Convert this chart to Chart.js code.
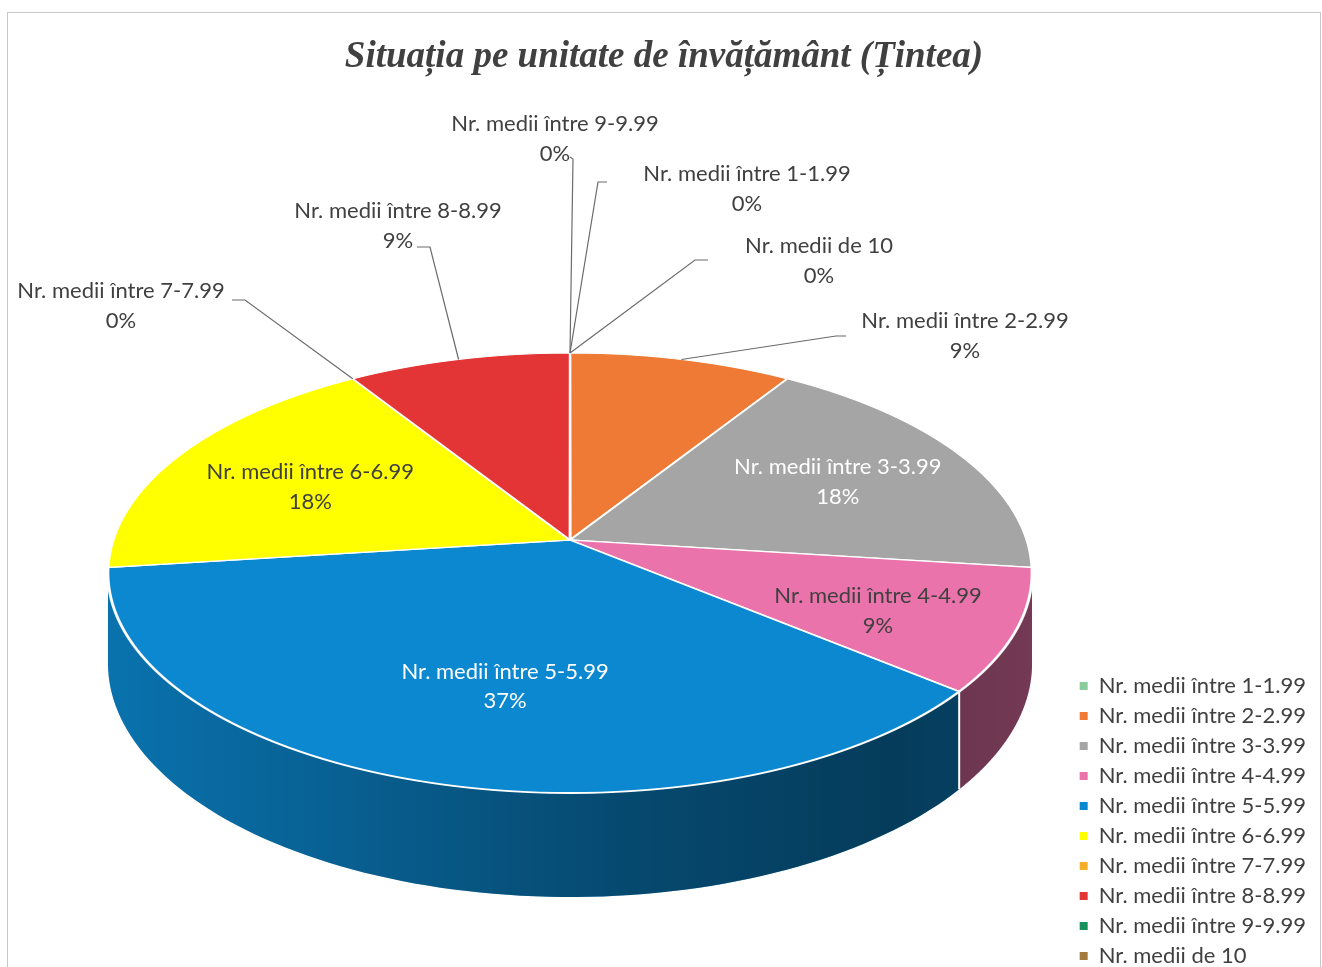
<!DOCTYPE html>
<html><head><meta charset="utf-8">
<script src="https://cdn.jsdelivr.net/npm/chart.js@4.4.1/dist/chart.umd.min.js"></script>
<style>html,body{margin:0;padding:0;overflow:hidden;background:#fff}</style>
</head><body>
<canvas id="c" width="1322" height="976"></canvas>
<script>
// ---------- data ----------
const categories = [
  'Nr. medii între 1-1.99', 'Nr. medii între 2-2.99', 'Nr. medii între 3-3.99',
  'Nr. medii între 4-4.99', 'Nr. medii între 5-5.99', 'Nr. medii între 6-6.99',
  'Nr. medii între 7-7.99', 'Nr. medii între 8-8.99', 'Nr. medii între 9-9.99',
  'Nr. medii de 10'
];
const percentValues = [0, 9, 18, 9, 37, 18, 0, 9, 0, 0];
const titleText = 'Situația pe unitate de învățământ (Țintea)';

// ---------- styles / layout ----------
const sliceColors = ['#8CCB9A', '#EE7A36', '#A5A5A5', '#E973AA', '#0B88CF',
                     '#FFFF00', '#F5B027', '#E43536', '#16915C', '#A47A3C'];
const insideLabelColors = {2: '#FFFFFF', 3: '#404040', 4: '#FFFFFF', 5: '#404040'};
const insideLabelNudge = {2: [6, 0], 3: [20, 12], 4: [28, -4], 5: [2, 5]};
const LABEL_FONT = '22px Lato';
const LABEL_LINE = 29.5;
const INSIDE_FRACTION = 0.66;
// perspective view of the pie plane (screen pixels)
const VIEW = {cx: 570, C: 540, A: 456.8, B: 134.05, G: -0.15, depth: 104};
const outsideLabels = {
  0: {x: 747, y: 189, tick: [607, 182, 598, 182]},
  1: {x: 965, y: 336, tick: [846, 336, 836, 336]},
  6: {x: 121, y: 306, tick: [232, 300, 245, 300]},
  7: {x: 398, y: 226, tick: [417, 247, 430, 247]},
  8: {x: 555, y: 139, tick: [570, 157, 573, 159]},
  9: {x: 819, y: 261, tick: [708, 260, 695, 260]}
};

function proj(u, v) {
  const d = 1 + VIEW.G * v;
  return {x: VIEW.cx + VIEW.A * u / d, y: (VIEW.B * v + VIEW.C) / d};
}
function vOfY(y) { return (y - VIEW.C) / (VIEW.B - VIEW.G * y); }
function anglePt(theta, f) { return proj(f * Math.cos(theta), f * Math.sin(theta)); }

const framePlugin = {
  id: 'frame',
  beforeDraw(chart) {
    const ctx = chart.ctx;
    ctx.save();
    ctx.strokeStyle = '#c8c8c8';
    ctx.lineWidth = 1;
    ctx.strokeRect(7.5, 12.5, 1313, 1100);
    ctx.restore();
  }
};

const pie3dPlugin = {
  id: 'pie3d',
  beforeDatasetsDraw(chart) {
    const ctx = chart.ctx;
    const meta = chart.getDatasetMeta(0);
    // ---- side walls (visible front part) ----
    const thA = Math.asin(-VIEW.G);
    const grad = ctx.createLinearGradient(VIEW.cx - 462, 0, VIEW.cx + 462, 0);
    grad.addColorStop(0, 'rgba(0,0,0,0.16)');
    grad.addColorStop(0.55, 'rgba(0,0,0,0.46)');
    grad.addColorStop(0.85, 'rgba(0,0,0,0.56)');
    grad.addColorStop(1, 'rgba(0,0,0,0.50)');
    const wallPt = (t, bottom) => {
      const p = anglePt(t, 1);
      if (bottom) p.y += VIEW.depth * (1 + VIEW.G) / (1 + VIEW.G * Math.sin(t));
      return p;
    };
    const bounds = [];
    meta.data.forEach((arc, i) => {
      const s = Math.max(arc.startAngle, thA), e = Math.min(arc.endAngle, Math.PI - thA);
      if (e - s < 1e-6) return;
      const n = 90;
      ctx.beginPath();
      for (let k = 0; k <= n; k++) {
        const p = wallPt(s + (e - s) * k / n, false);
        k ? ctx.lineTo(p.x, p.y) : ctx.moveTo(p.x, p.y);
      }
      for (let k = n; k >= 0; k--) {
        const p = wallPt(s + (e - s) * k / n, true);
        ctx.lineTo(p.x, p.y);
      }
      ctx.closePath();
      ctx.fillStyle = sliceColors[i];
      ctx.fill();
      ctx.fillStyle = grad;
      ctx.fill();
      if (s > thA + 1e-6) bounds.push(s);
    });
    ctx.save();
    ctx.strokeStyle = '#ffffff';
    ctx.lineWidth = 2;
    bounds.forEach(t => {
      const a = wallPt(t, false), b = wallPt(t, true);
      ctx.beginPath(); ctx.moveTo(a.x, a.y); ctx.lineTo(b.x, b.y); ctx.stroke();
    });
    ctx.restore();
    // ---- top face: library arcs drawn row by row under the perspective map ----
    const a0 = meta.data[0];
    const cx = a0.x, cy = a0.y, r = a0.outerRadius;
    const W = chart.width;
    const yTop = Math.floor(proj(0, -1).y) - 3, yBot = Math.ceil(proj(0, 1).y) + 3;
    for (let Y = yTop; Y < yBot; Y++) {
      const v0 = vOfY(Y), v1 = vOfY(Y + 1), vm = (v0 + v1) / 2;
      const sx = VIEW.A / ((1 + VIEW.G * vm) * r);
      const sy = 1 / ((v1 - v0) * r);
      ctx.save();
      ctx.beginPath();
      ctx.rect(0, Y, W, 1);
      ctx.clip();
      ctx.setTransform(sx, 0, 0, sy, VIEW.cx - sx * cx, Y - sy * cy - v0 / (v1 - v0));
      meta.controller.draw();
      ctx.restore();
    }
    return false;
  },
  afterDraw(chart) {
    const ctx = chart.ctx;
    const meta = chart.getDatasetMeta(0);
    const total = percentValues.reduce((a, b) => a + b, 0);
    ctx.save();
    ctx.font = LABEL_FONT;
    ctx.textAlign = 'center';
    ctx.textBaseline = 'middle';
    meta.data.forEach((arc, i) => {
      const pct = Math.round(percentValues[i] / total * 100) + '%';
      const mid = (arc.startAngle + arc.endAngle) / 2;
      let x, y, color;
      if (outsideLabels[i]) {
        const L = outsideLabels[i];
        x = L.x; y = L.y; color = '#404040';
        const anchor = anglePt(mid, 1);
        ctx.strokeStyle = '#6b6b6b';
        ctx.lineWidth = 1.2;
        ctx.beginPath();
        ctx.moveTo(L.tick[0], L.tick[1]);
        ctx.lineTo(L.tick[2], L.tick[3]);
        ctx.lineTo(anchor.x, anchor.y);
        ctx.stroke();
      } else {
        const p = anglePt(mid, INSIDE_FRACTION);
        const nudge = insideLabelNudge[i] || [0, 0];
        x = p.x + nudge[0]; y = p.y + nudge[1];
        color = insideLabelColors[i] || '#404040';
      }
      ctx.fillStyle = color;
      ctx.fillText(categories[i], x, y - LABEL_LINE / 2);
      ctx.fillText(pct, x, y + LABEL_LINE / 2);
    });
    ctx.restore();
  }
};

new Chart(document.getElementById('c'), {
  type: 'pie',
  data: {
    labels: categories,
    datasets: [{
      data: percentValues,
      backgroundColor: sliceColors,
      borderColor: '#ffffff',
      borderWidth: 1.8,
      clip: false
    }]
  },
  options: {
    responsive: false,
    animation: false,
    events: [],
    radius: 300,
    layout: {padding: {top: 0, right: 6, bottom: 1, left: 12}},
    plugins: {
      title: {
        display: true,
        text: titleText,
        color: '#404040',
        font: {family: 'Liberation Serif', size: 37, weight: 'bold', style: 'italic'},
        padding: {top: 35, bottom: 10}
      },
      legend: {
        position: 'right',
        align: 'end',
        labels: {
          boxWidth: 8,
          boxHeight: 8,
          padding: 8,
          color: '#404040',
          font: {family: 'Lato', size: 22},
          generateLabels(chart) {
            const gen = (Chart.overrides.pie || Chart.overrides.doughnut).plugins.legend.labels.generateLabels;
            return gen(chart).map(it => Object.assign(it, {lineWidth: 0, strokeStyle: 'rgba(0,0,0,0)'}));
          }
        }
      },
      tooltip: {enabled: false}
    }
  },
  plugins: [framePlugin, pie3dPlugin]
});
</script>
</body></html>
